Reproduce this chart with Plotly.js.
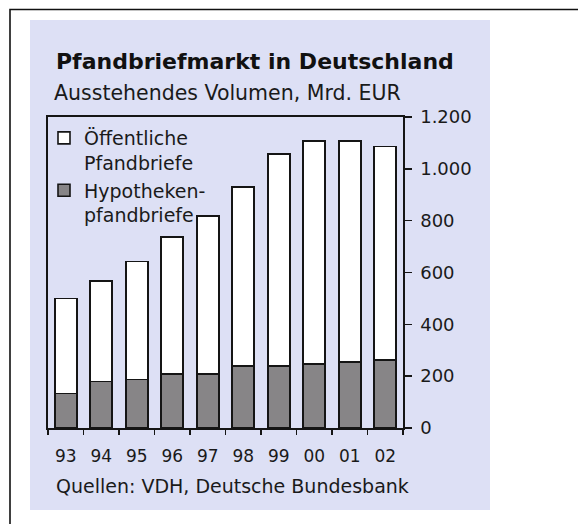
<!DOCTYPE html>
<html>
<head>
<meta charset="utf-8">
<script src="https://cdn.plot.ly/plotly-3.0.1.min.js"></script>
<style>html,body{margin:0;padding:0;background:#fff;}#chart{width:578px;height:524px;}</style>
</head>
<body>
<div id="chart"></div>
<script>
// ---- data ----
const years = ["93","94","95","96","97","98","99","00","01","02"];
const hypotheken = [133, 179, 187, 208, 208, 240, 239, 247, 255, 262];
const oeffentliche = [367, 388, 456, 530, 610, 691, 818, 861, 853, 824];
const yTickVals = [0, 200, 400, 600, 800, 1000, 1200];
const yTickText = ["0", "200", "400", "600", "800", "1.000", "1.200"];
const seriesNames = ["Hypotheken-<br>pfandbriefe", "Öffentliche<br>Pfandbriefe"];
const titleText = "Pfandbriefmarkt in Deutschland";
const subtitleText = "Ausstehendes Volumen, Mrd. EUR";
const sourceText = "Quellen: VDH, Deutsche Bundesbank";

// ---- geometry helpers (pixel -> paper) ----
const W = 578, H = 524;
const L = 48, R = 403, T = 117, B = 428;
const px = v => (v - L) / (R - L);
const py = v => (B - v) / (B - T);
const FONT = "DejaVu Sans, Arial, sans-serif";

const traces = [
  {type: "bar", x: years, y: hypotheken, name: seriesNames[0],
   marker: {color: "#878587", line: {color: "#151515", width: 1.6}}},
  {type: "bar", x: years, y: oeffentliche, name: seriesNames[1],
   marker: {color: "#ffffff", line: {color: "#151515", width: 1.6}}}
];

const layout = {
  width: W, height: H, autosize: false,
  margin: {l: L, r: W - R, t: T, b: H - B, pad: 0},
  paper_bgcolor: "#ffffff",
  plot_bgcolor: "rgba(0,0,0,0)",
  barmode: "stack",
  bargap: 0.38,
  font: {family: FONT, color: "#1a1a1a", size: 18},
  showlegend: true,
  legend: {
    x: px(44), y: py(119), xanchor: "left", yanchor: "top",
    bgcolor: "rgba(0,0,0,0)", borderwidth: 0,
    traceorder: "reversed", valign: "top",
    font: {family: FONT, size: 19, color: "#1a1a1a"},
    itemwidth: 30, tracegroupgap: 0
  },
  xaxis: {
    type: "category", showgrid: false, zeroline: false,
    showline: true, mirror: true, linecolor: "#151515", linewidth: 1.6,
    ticks: "outside", tickson: "boundaries", ticklen: 5, tickwidth: 1.6, tickcolor: "#151515",
    ticklabelstandoff: 12,
    tickfont: {family: FONT, size: 17, color: "#1a1a1a"},
    fixedrange: true
  },
  yaxis: {
    range: [0, 1200], side: "right", showgrid: false, zeroline: false,
    showline: true, mirror: true, linecolor: "#151515", linewidth: 1.6,
    ticks: "outside", ticklen: 7, tickwidth: 1.6, tickcolor: "#151515",
    ticklabelstandoff: 5,
    tickvals: yTickVals, ticktext: yTickText,
    tickfont: {family: FONT, size: 18, color: "#1a1a1a"},
    fixedrange: true
  },
  shapes: [
    {type: "rect", xref: "paper", yref: "paper", layer: "below",
     x0: px(30), x1: px(490), y0: py(510), y1: py(20),
     fillcolor: "#dde0f5", line: {width: 0}},
    {type: "rect", xref: "paper", yref: "paper", layer: "above",
     x0: px(10), x1: px(620), y0: py(600), y1: py(9.5),
     fillcolor: "rgba(0,0,0,0)", line: {color: "#111111", width: 1.6}}
  ],
  annotations: [
    {text: "<b>" + titleText + "</b>", xref: "paper", yref: "paper",
     x: px(54), y: py(61), xanchor: "left", yanchor: "middle", showarrow: false,
     font: {family: FONT, size: 22, color: "#111111"}},
    {text: subtitleText, xref: "paper", yref: "paper",
     x: px(52), y: py(93), xanchor: "left", yanchor: "middle", showarrow: false,
     font: {family: FONT, size: 20.5, color: "#1a1a1a"}},
    {text: sourceText, xref: "paper", yref: "paper",
     x: px(54), y: py(486), xanchor: "left", yanchor: "middle", showarrow: false,
     font: {family: FONT, size: 19, color: "#1a1a1a"}}
  ]
};

Plotly.newPlot("chart", traces, layout, {displayModeBar: false, staticPlot: true});
</script>
</body>
</html>
